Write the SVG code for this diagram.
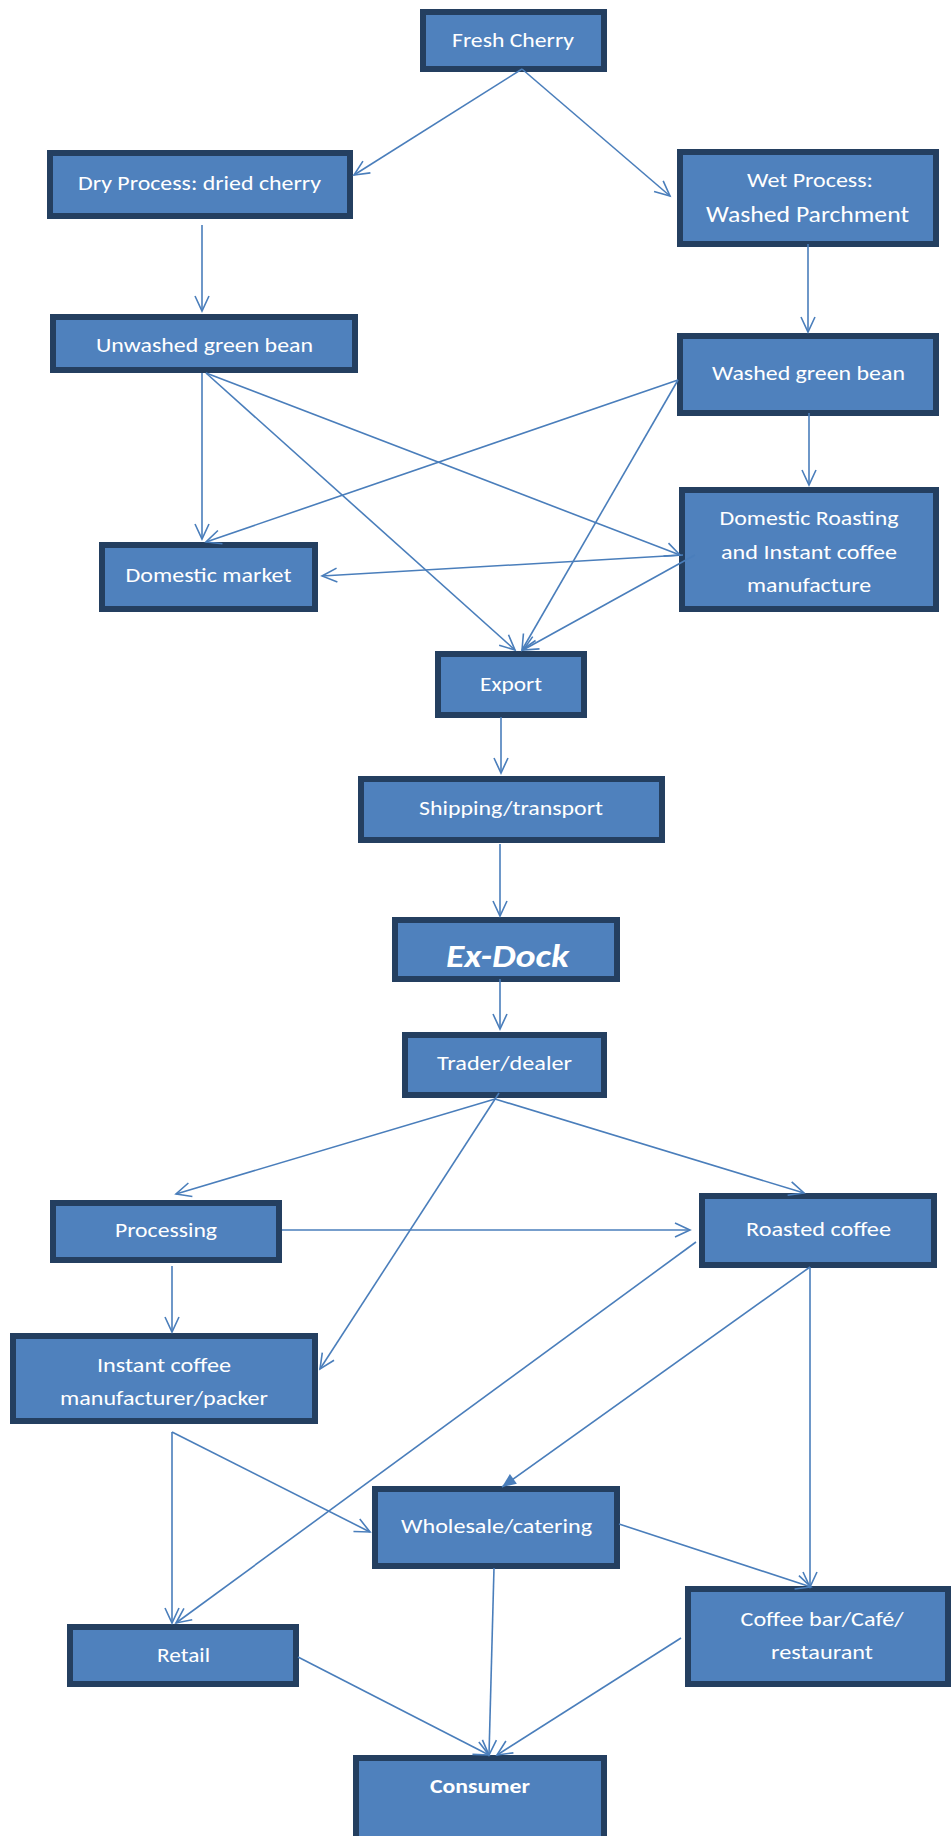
<svg xmlns="http://www.w3.org/2000/svg" width="952" height="1836" viewBox="0 0 952 1836">
<style>
.box{fill:#4F81BD;stroke:#243F60;stroke-width:6}
.t{font-family:Carlito,Lato,"Liberation Sans",sans-serif;font-size:21px;fill:#FFFFFF;text-anchor:middle}
.c{fill:none;stroke:#4A7EBB;stroke-width:1.6}
</style>
<defs>
<marker id="open" markerUnits="userSpaceOnUse" markerWidth="20" markerHeight="20" refX="15" refY="7" orient="auto" overflow="visible">
<path d="M0,0 L15,7 L0,14" fill="none" stroke="#4A7EBB" stroke-width="1.6"/>
</marker>
<marker id="solid" markerUnits="userSpaceOnUse" markerWidth="20" markerHeight="20" refX="14" refY="6" orient="auto" overflow="visible">
<path d="M0,0 L14,6 L0,12 Z" fill="#4A7EBB"/>
</marker>
</defs>
<rect width="952" height="1836" fill="#FFFFFF"/>
<g id="fresh-cherry"><rect class="box" x="423" y="12" width="181" height="57"/><text class="t" x="513" y="47" textLength="122" lengthAdjust="spacingAndGlyphs">Fresh Cherry</text></g>
<g id="dry-process"><rect class="box" x="50" y="153" width="300" height="63"/><text class="t" x="199.5" y="190" textLength="243" lengthAdjust="spacingAndGlyphs">Dry Process: dried cherry</text></g>
<g id="wet-process"><rect class="box" x="680" y="152" width="256" height="92"/><text class="t" x="810" y="187" textLength="126" lengthAdjust="spacingAndGlyphs">Wet Process:</text><text class="t" x="807.5" y="222" style="font-size:23px" textLength="203" lengthAdjust="spacingAndGlyphs">Washed Parchment</text></g>
<g id="unwashed"><rect class="box" x="53" y="317" width="302" height="53"/><text class="t" x="204.5" y="352" textLength="217" lengthAdjust="spacingAndGlyphs">Unwashed green bean</text></g>
<g id="washed"><rect class="box" x="680" y="336" width="256" height="77"/><text class="t" x="808.5" y="380" textLength="193" lengthAdjust="spacingAndGlyphs">Washed green bean</text></g>
<g id="domestic-market"><rect class="box" x="102" y="545" width="213" height="64"/><text class="t" x="208.5" y="582" textLength="166" lengthAdjust="spacingAndGlyphs">Domestic market</text></g>
<g id="domestic-roasting"><rect class="box" x="682" y="490" width="254" height="119"/><text class="t" x="809" y="525" textLength="179" lengthAdjust="spacingAndGlyphs">Domestic Roasting</text><text class="t" x="809" y="559" textLength="176" lengthAdjust="spacingAndGlyphs">and Instant coffee</text><text class="t" x="809" y="592" textLength="124" lengthAdjust="spacingAndGlyphs">manufacture</text></g>
<g id="export"><rect class="box" x="438" y="654" width="146" height="61"/><text class="t" x="511" y="691" textLength="62" lengthAdjust="spacingAndGlyphs">Export</text></g>
<g id="shipping"><rect class="box" x="361" y="779" width="301" height="61"/><text class="t" x="511" y="815" textLength="184" lengthAdjust="spacingAndGlyphs">Shipping/transport</text></g>
<g id="ex-dock"><rect class="box" x="395" y="920" width="222" height="59"/><text class="t" x="507.5" y="967" style="font-size:32px;font-weight:bold;font-style:italic" textLength="123" lengthAdjust="spacingAndGlyphs">Ex-Dock</text></g>
<g id="trader"><rect class="box" x="405" y="1035" width="199" height="60"/><text class="t" x="504.5" y="1070" textLength="135" lengthAdjust="spacingAndGlyphs">Trader/dealer</text></g>
<g id="processing"><rect class="box" x="53" y="1203" width="226" height="57"/><text class="t" x="166" y="1237" textLength="102" lengthAdjust="spacingAndGlyphs">Processing</text></g>
<g id="roasted"><rect class="box" x="702" y="1196" width="232" height="69"/><text class="t" x="818.5" y="1236" textLength="145" lengthAdjust="spacingAndGlyphs">Roasted coffee</text></g>
<g id="instant"><rect class="box" x="13" y="1336" width="302" height="85"/><text class="t" x="164" y="1372" textLength="134" lengthAdjust="spacingAndGlyphs">Instant coffee</text><text class="t" x="164" y="1405" textLength="208" lengthAdjust="spacingAndGlyphs">manufacturer/packer</text></g>
<g id="wholesale"><rect class="box" x="375" y="1489" width="242" height="77"/><text class="t" x="496.5" y="1533" textLength="191" lengthAdjust="spacingAndGlyphs">Wholesale/catering</text></g>
<g id="retail"><rect class="box" x="70" y="1627" width="226" height="57"/><text class="t" x="183.5" y="1662" textLength="53" lengthAdjust="spacingAndGlyphs">Retail</text></g>
<g id="coffee-bar"><rect class="box" x="688" y="1589" width="260" height="95"/><text class="t" x="822" y="1626" textLength="163" lengthAdjust="spacingAndGlyphs">Coffee bar/Café/</text><text class="t" x="822" y="1659" textLength="102" lengthAdjust="spacingAndGlyphs">restaurant</text></g>
<g id="consumer"><rect class="box" x="356" y="1758" width="248" height="100"/><text class="t" x="480" y="1793" style="font-weight:bold" textLength="100" lengthAdjust="spacingAndGlyphs">Consumer</text></g>
<g id="connectors">
<path class="c" marker-end="url(#open)" d="M522,69 L354,175"/>
<path class="c" marker-end="url(#open)" d="M522,69 L670,196"/>
<path class="c" marker-end="url(#open)" d="M202,225 L202,311"/>
<path class="c" marker-end="url(#open)" d="M808,244 L808,332"/>
<path class="c" marker-end="url(#open)" d="M202,373 L202,539"/>
<path class="c" marker-end="url(#open)" d="M206,373 L515,650"/>
<path class="c" marker-end="url(#open)" d="M206,373 L680,555"/>
<path class="c" marker-end="url(#open)" d="M678,380 L206,542"/>
<path class="c" marker-end="url(#open)" d="M678,380 L522,650"/>
<path class="c" marker-end="url(#open)" d="M809,413 L809,485"/>
<path class="c" marker-end="url(#open)" d="M683,555 L322,576"/>
<path class="c" marker-end="url(#open)" d="M695,555 L523,650"/>
<path class="c" marker-end="url(#open)" d="M501,717 L501,773"/>
<path class="c" marker-end="url(#open)" d="M500,844 L500,916"/>
<path class="c" marker-end="url(#open)" d="M500,979 L500,1029"/>
<path class="c" marker-end="url(#open)" d="M495,1099 L176,1194"/>
<path class="c" marker-end="url(#open)" d="M499,1093 L320,1369"/>
<path class="c" marker-end="url(#open)" d="M495,1099 L804,1193"/>
<path class="c" marker-end="url(#open)" d="M282,1230 L690,1230"/>
<path class="c" marker-end="url(#open)" d="M172,1266 L172,1332"/>
<path class="c" marker-end="url(#open)" d="M696,1242 L176,1623"/>
<path class="c" marker-end="url(#solid)" d="M810,1267 L502,1487"/>
<path class="c" marker-end="url(#open)" d="M810,1267 L810,1587"/>
<path class="c" marker-end="url(#open)" d="M172,1432 L172,1623"/>
<path class="c" marker-end="url(#open)" d="M172,1432 L370,1532"/>
<path class="c" marker-end="url(#open)" d="M619,1524 L811,1587"/>
<path class="c" marker-end="url(#open)" d="M494,1568 L489,1755"/>
<path class="c" marker-end="url(#open)" d="M298,1657 L489,1755"/>
<path class="c" marker-end="url(#open)" d="M681,1638 L497,1755"/>
</g>
</svg>
